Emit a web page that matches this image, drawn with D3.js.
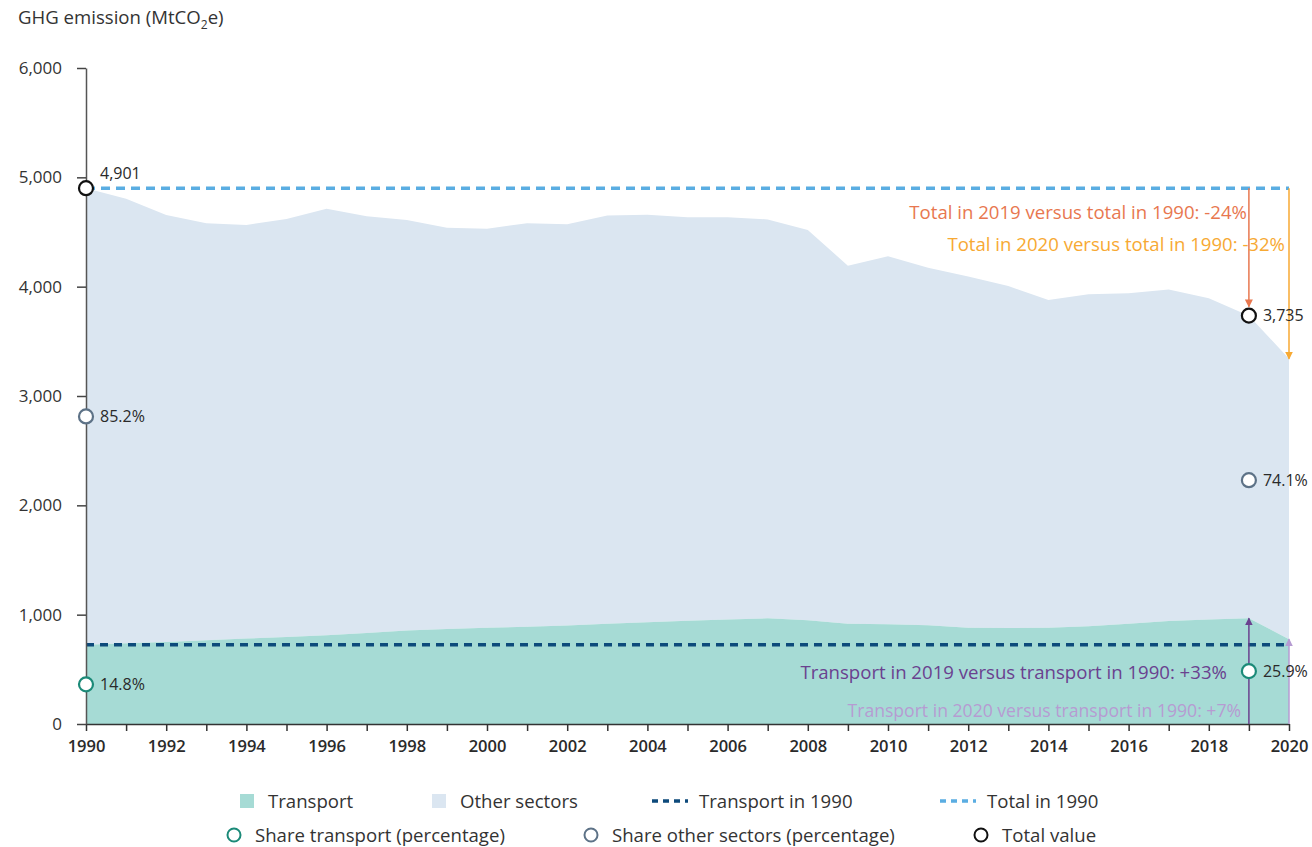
<!DOCTYPE html>
<html>
<head>
<meta charset="utf-8">
<script src="https://cdn.jsdelivr.net/npm/d3@7"></script>
<style>
  html, body { margin: 0; padding: 0; background: #fff; }
  svg { display: block; font-family: "Open Sans", "Noto Sans", sans-serif; }
</style>
</head>
<body>
<svg id="chart" width="1312" height="847"></svg>
<script>
// ---- Data ----
const years = d3.range(1990, 2021);
const totalValues = [4901, 4805, 4655, 4580, 4565, 4620, 4712, 4645, 4610, 4538, 4530,
  4580, 4570, 4652, 4658, 4636, 4636, 4615, 4518, 4192, 4278, 4172, 4092, 4006, 3878,
  3930, 3940, 3975, 3894, 3735, 3340];
const transportValues = [725, 738, 750, 765, 782, 795, 812, 833, 855, 870, 880,
  890, 902, 918, 930, 945, 955, 967, 950, 918, 913, 903, 880, 878, 880,
  895, 918, 942, 955, 967, 776];
const yTicks = [0, 1000, 2000, 3000, 4000, 5000, 6000];
const xLabelYears = d3.range(1990, 2021, 2);
const shareLabels = { 1990: { transport: "14.8%", other: "85.2%" }, 2019: { transport: "25.9%", other: "74.1%" } };
const annotations = [
  { text: "Total in 2019 versus total in 1990: -24%", color: "#e8774f" },
  { text: "Total in 2020 versus total in 1990: -32%", color: "#f7a933" },
  { text: "Transport in 2019 versus transport in 1990: +33%", color: "#6a418f" },
  { text: "Transport in 2020 versus transport in 1990: +7%", color: "#b69bd2" }
];
const legendRow1 = ["Transport", "Other sectors", "Transport in 1990", "Total in 1990"];
const legendRow2 = ["Share transport (percentage)", "Share other sectors (percentage)", "Total value"];

const data = years.map((y, i) => ({ year: y, total: totalValues[i], transport: transportValues[i] }));

// ---- Setup ----
const svg = d3.select("#chart");
const x = d3.scaleLinear().domain([1990, 2020]).range([86, 1289]);
const y = d3.scaleLinear().domain([0, 6000]).range([724, 68]);

const C = {
  transport: "#a6dbd5",
  other: "#dbe6f1",
  navy: "#0d4a7b",
  lightBlue: "#5aade2",
  tealStroke: "#1b8a78",
  otherStroke: "#5d7287",
  text: "#2a2a2a"
};
const FS = 18.6;

// ---- Areas ----
svg.append("path").datum(data)
  .attr("fill", C.other)
  .attr("d", d3.area().x(d => x(d.year)).y0(d => y(d.transport)).y1(d => y(d.total)));
svg.append("path").datum(data)
  .attr("fill", C.transport)
  .attr("d", d3.area().x(d => x(d.year)).y0(y(0)).y1(d => y(d.transport)));

// ---- Reference lines ----
const total1990 = totalValues[0], transport1990 = transportValues[0];
svg.append("line")
  .attr("x1", x(1990)).attr("x2", x(2020))
  .attr("y1", y(total1990)).attr("y2", y(total1990))
  .attr("stroke", C.lightBlue).attr("stroke-width", 3.5).attr("stroke-dasharray", "9,6");
svg.append("line")
  .attr("x1", x(1990)).attr("x2", x(2020))
  .attr("y1", y(transport1990)).attr("y2", y(transport1990))
  .attr("stroke", C.navy).attr("stroke-width", 3.5).attr("stroke-dasharray", "8,6");

// ---- Axes ----
const xAxis = svg.append("g").attr("transform", `translate(0,${y(0)})`)
  .call(d3.axisBottom(x).tickValues(years).tickSize(7).tickSizeOuter(0)
    .tickFormat(d => xLabelYears.includes(d) ? String(d) : ""));
xAxis.select(".domain").attr("stroke", "#333").attr("stroke-width", 1.5);
xAxis.selectAll(".tick line").attr("stroke", "#333").attr("stroke-width", 1.5);
xAxis.selectAll(".tick text").attr("font-size", 16.5).attr("font-weight", 600)
  .attr("fill", C.text).attr("dy", "1.1em").attr("font-family", "'Open Sans', sans-serif");

const yAxis = svg.append("g").attr("transform", `translate(${x(1990)},0)`)
  .call(d3.axisLeft(y).tickValues(yTicks).tickSize(9).tickSizeOuter(0).tickFormat(d3.format(",")));
yAxis.select(".domain").attr("stroke", "#555").attr("stroke-width", 1.5);
yAxis.selectAll(".tick line").attr("stroke", "#444").attr("stroke-width", 1.5);
yAxis.selectAll(".tick text").attr("font-size", 17).attr("fill", "#333")
  .attr("x", -24).attr("font-family", "'Open Sans', sans-serif");

// ---- Title ----
const title = svg.append("text").attr("x", 18).attr("y", 24).attr("font-size", FS).attr("fill", "#333");
title.append("tspan").text("GHG emission (MtCO");
title.append("tspan").attr("font-size", 12).attr("dy", 5).text("2");
title.append("tspan").attr("dy", -5).text("e)");

// ---- Arrow markers ----
const defs = svg.append("defs");
annotations.forEach((a, i) => {
  defs.append("marker").attr("id", "arr" + i)
    .attr("viewBox", "0 0 10 10").attr("refX", 9).attr("refY", 5)
    .attr("markerWidth", 8).attr("markerHeight", 8).attr("markerUnits", "userSpaceOnUse")
    .attr("orient", "auto")
    .append("path").attr("d", "M0,0 L10,5 L0,10 Z").attr("fill", a.color);
});

const d2019 = data.find(d => d.year === 2019);
const d2020 = data.find(d => d.year === 2020);
const r = 7;
svg.append("line").attr("x1", x(2019)).attr("x2", x(2019))
  .attr("y1", y(total1990)).attr("y2", y(d2019.total) - r - 2)
  .attr("stroke", annotations[0].color).attr("stroke-width", 1.5).attr("marker-end", "url(#arr0)");
svg.append("line").attr("x1", x(2020)).attr("x2", x(2020))
  .attr("y1", y(total1990)).attr("y2", y(d2020.total))
  .attr("stroke", annotations[1].color).attr("stroke-width", 1.5).attr("marker-end", "url(#arr1)");
svg.append("line").attr("x1", x(2019)).attr("x2", x(2019))
  .attr("y1", y(0)).attr("y2", y(d2019.transport))
  .attr("stroke", annotations[2].color).attr("stroke-width", 1.5).attr("marker-end", "url(#arr2)");
svg.append("line").attr("x1", x(2020)).attr("x2", x(2020))
  .attr("y1", y(0)).attr("y2", y(d2020.transport))
  .attr("stroke", annotations[3].color).attr("stroke-width", 1.5).attr("marker-end", "url(#arr3)");

const annPos = [
  { x: x(2019) - 2, y: 212, fs: FS },
  { x: x(2020) - 4, y: 244, fs: FS },
  { x: x(2019) - 22, y: 672, fs: FS },
  { x: x(2020) - 48, y: 711, fs: 17.6 }
];
annotations.forEach((a, i) => {
  svg.append("text").attr("x", annPos[i].x).attr("y", annPos[i].y).attr("dy", "0.35em")
    .attr("text-anchor", "end").attr("font-size", annPos[i].fs).attr("fill", a.color).text(a.text);
});

// ---- Circles & labels ----
function circle(cx, cy, stroke) {
  svg.append("circle").attr("cx", cx).attr("cy", cy).attr("r", r)
    .attr("fill", "#fff").attr("stroke", stroke).attr("stroke-width", 2.2);
}
function label(lx, ly, t) {
  svg.append("text").attr("x", lx).attr("y", ly).attr("dy", "0.35em")
    .attr("font-size", 16).attr("fill", C.text).text(t);
}
[1990, 2019].forEach(yr => {
  const d = data.find(e => e.year === yr);
  const cx = x(yr);
  const oy = y((transport1990 + d.total) / 2);
  circle(cx, oy, C.otherStroke);
  label(cx + 14, oy, shareLabels[yr].other);
  const ty = y(d.transport / 2);
  circle(cx, ty, C.tealStroke);
  label(cx + 14, ty, shareLabels[yr].transport);
  const tt = y(d.total);
  circle(cx, tt, "#111");
  if (yr === 1990) {
    label(cx + 14, tt - 15, d3.format(",")(d.total));
  } else {
    label(cx + 14, tt, d3.format(",")(d.total));
  }
});

// ---- Legend ----
const lg = svg.append("g").attr("font-size", FS).attr("fill", "#333");
const row1Y = 801, row2Y = 835;
const r1x = [240, 432, 652, 940];
lg.append("rect").attr("x", r1x[0]).attr("y", row1Y - 7).attr("width", 14).attr("height", 14).attr("fill", C.transport);
lg.append("rect").attr("x", r1x[1]).attr("y", row1Y - 7).attr("width", 14).attr("height", 14).attr("fill", C.other);
lg.append("line").attr("x1", r1x[2]).attr("x2", r1x[2] + 36).attr("y1", row1Y).attr("y2", row1Y)
  .attr("stroke", C.navy).attr("stroke-width", 3.5).attr("stroke-dasharray", "6,5");
lg.append("line").attr("x1", r1x[3]).attr("x2", r1x[3] + 36).attr("y1", row1Y).attr("y2", row1Y)
  .attr("stroke", C.lightBlue).attr("stroke-width", 3.5).attr("stroke-dasharray", "6,5");
const r1tx = [268, 460, 699, 987];
legendRow1.forEach((t, i) => {
  lg.append("text").attr("x", r1tx[i]).attr("y", row1Y).attr("dy", "0.35em").attr("fill", "#333").text(t);
});
const r2cx = [234, 591, 981];
const r2stroke = [C.tealStroke, C.otherStroke, "#111"];
legendRow2.forEach((t, i) => {
  lg.append("circle").attr("cx", r2cx[i]).attr("cy", row2Y).attr("r", 6.5)
    .attr("fill", "#fff").attr("stroke", r2stroke[i]).attr("stroke-width", 2);
  lg.append("text").attr("x", r2cx[i] + 21).attr("y", row2Y).attr("dy", "0.35em").attr("fill", "#333").text(t);
});
</script>
</body>
</html>
